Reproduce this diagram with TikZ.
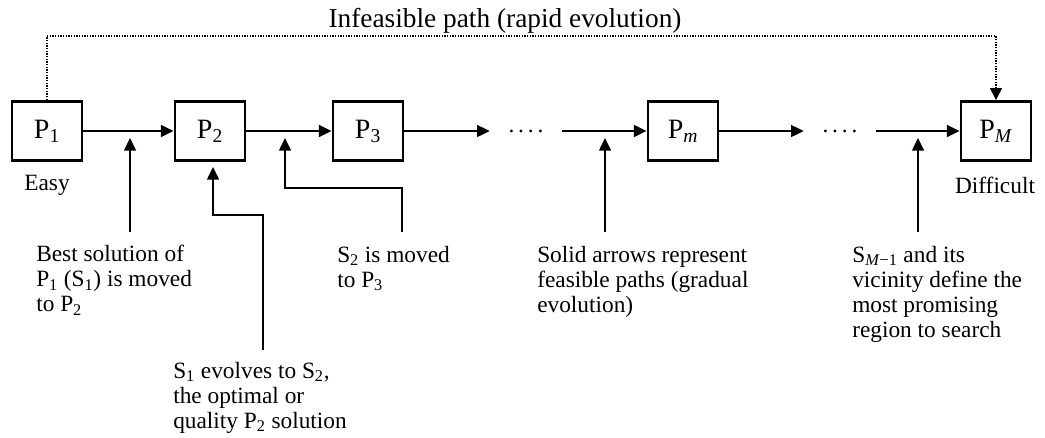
\documentclass[tikz,border=0pt]{standalone}
\usepackage{fontspec}
\setmainfont{Liberation Serif}
\usetikzlibrary{arrows.meta}

\begin{document}
\begin{tikzpicture}[x=0.75pt,y=-0.75pt,
  prob/.style={draw,rectangle,line width=2.2pt,minimum width=52.5pt,minimum height=44.25pt,inner sep=0pt,font=\fontsize{21}{24}\selectfont},
  lab/.style={inner sep=0pt,align=left,font=\fontsize{17.5}{18.75}\selectfont},
  gap/.style={inner xsep=13.9pt,inner ysep=0pt,font=\fontsize{17.5}{18.75}\selectfont},
  arr/.style={line width=1.1pt,-{Triangle[length=9.5pt,width=9pt]}},
  infeas/.style={line width=1pt,densely dotted,-{Triangle[length=9pt,width=9pt]}}]
\useasboundingbox (0,0) rectangle (1045,437);

\node[prob] (P1) at (47,131) {P\textsubscript{1}};
\node[prob] (P2) at (210,131) {P\textsubscript{2}};
\node[prob] (P3) at (368,131) {P\textsubscript{3}};
\node[prob] (Pm) at (683,131) {P\textsubscript{\textit{m}}};
\node[prob] (PM) at (996,131) {P\textsubscript{\textit{M}}};
\node[gap] (d1) at (526,131) {.\,.\,.\,.};
\node[gap] (d2) at (840,131) {.\,.\,.\,.};

\node[lab] (easy) at (47,185) {Easy};
\node[lab] (hard) at (995,185) {Difficult};
\node[inner sep=0pt,font=\fontsize{20.5}{24}\selectfont] (title) at (505,21) {Infeasible path (rapid evolution)};

\node[lab,anchor=north west] (n1) at (36,245) {Best solution of\\P\textsubscript{1} (S\textsubscript{1}) is moved\\to P\textsubscript{2}};
\node[lab,anchor=north west] (n2) at (173,362) {S\textsubscript{1} evolves to S\textsubscript{2},\\the optimal or\\quality P\textsubscript{2} solution};
\node[lab,anchor=north west] (n3) at (337,246) {S\textsubscript{2} is moved\\to P\textsubscript{3}};
\node[lab,anchor=north west] (n4) at (537,246) {Solid arrows represent\\feasible paths (gradual\\evolution)};
\node[lab,anchor=north west] (n5) at (852,246) {S\textsubscript{\textit{M}−1} and its\\vicinity define the\\most promising\\region to search};

\coordinate (b1) at (130,232); \coordinate (t1) at (130,138);
\coordinate (b2) at (263,350); \coordinate (t2) at (213,167);
\coordinate (b3) at (402,232); \coordinate (t3) at (285,138);
\coordinate (b4) at (605,232); \coordinate (t4) at (605,138);
\coordinate (b5) at (918,232); \coordinate (t5) at (918,138);

\draw[arr] (P1) -- (P2);
\draw[arr] (P2) -- (P3);
\draw[arr] (P3) -- (d1);
\draw[arr] (d1) -- (Pm);
\draw[arr] (Pm) -- (d2);
\draw[arr] (d2) -- (PM);

\draw[arr] (b1) -- (t1);
\draw[arr] (b2) -- ++(0,-135) -| (t2);
\draw[arr] (b3) -- ++(0,-44) -| (t3);
\draw[arr] (b4) -- (t4);
\draw[arr] (b5) -- (t5);

\draw[infeas] (P1.north) -- ++(0,-64) -| (PM.north);
\end{tikzpicture}
\end{document}
